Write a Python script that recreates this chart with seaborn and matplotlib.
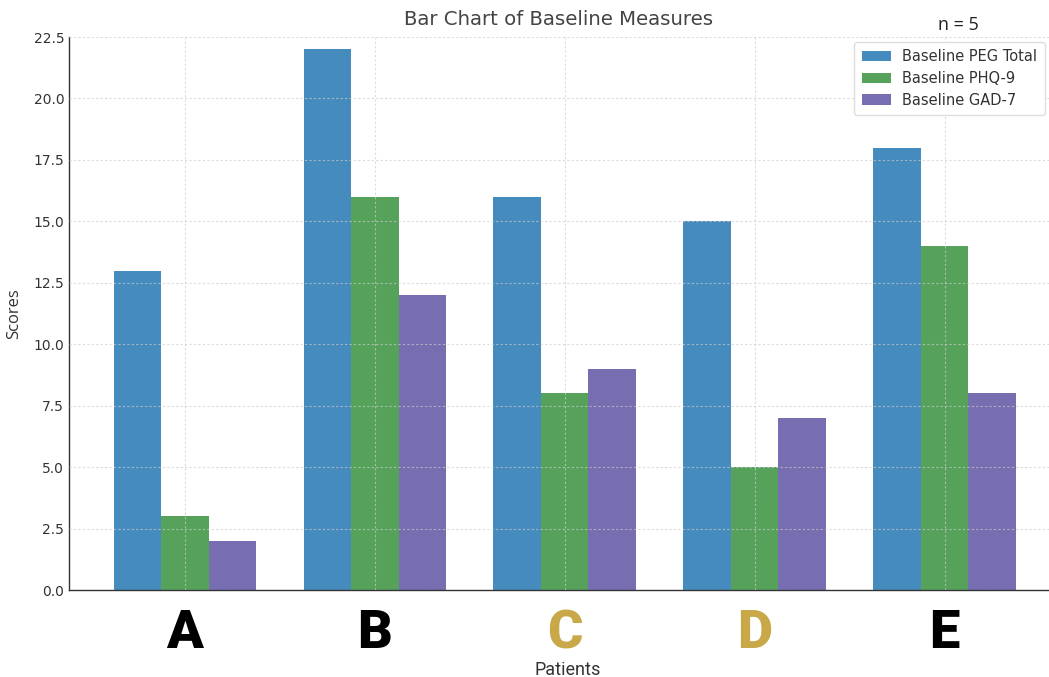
import matplotlib
matplotlib.use("Agg")
import matplotlib.pyplot as plt
import seaborn as sns
import pandas as pd

patients = ["A", "B", "C", "D", "E"]
peg_total = [13, 22, 16, 15, 18]
phq9 = [3, 16, 8, 5, 14]
gad7 = [2, 12, 9, 7, 8]
series_names = ["Baseline PEG Total", "Baseline PHQ-9", "Baseline GAD-7"]
label_colors = ["black", "black", "#C9A84A", "#C9A84A", "black"]

rows = []
for name, vals in zip(series_names, [peg_total, phq9, gad7]):
    for p, v in zip(patients, vals):
        rows.append({"Patients": p, "Scores": v, "Measure": name})
df = pd.DataFrame(rows)

sns.set_theme(style="white")
plt.rcParams['font.family'] = ['DejaVu Sans']

fig = plt.figure(figsize=(10.49, 6.77), dpi=100)
ax = fig.add_axes([0.0658, 0.1285, 0.9342, 0.8168])

palette = ["#468BBE", "#56A25B", "#776DB1"]
sns.barplot(data=df, x="Patients", y="Scores", hue="Measure", palette=palette,
            width=0.75, saturation=1, ax=ax, errorbar=None, linewidth=0,
            edgecolor="none")

ax.set_xlim(-0.61, 4.55)
ax.set_ylim(0, 22.5)
yt = [0, 2.5, 5, 7.5, 10, 12.5, 15, 17.5, 20, 22.5]
ax.set_yticks(yt)
ax.set_yticklabels([f"{v:.1f}" for v in yt], color="#333333", fontsize=10)
ax.grid(True, linestyle=(0, (2, 2)), color="#cccccc", linewidth=0.8, alpha=0.7)
ax.set_axisbelow(False)

for s in ["top", "right"]:
    ax.spines[s].set_visible(False)
for s in ["left", "bottom"]:
    ax.spines[s].set_color("#333333")
    ax.spines[s].set_linewidth(1.0)

ax.tick_params(axis="both", direction="in", length=3, color="#333333")
ax.tick_params(axis="x", pad=13)
ax.set_xticks(range(len(patients)))
ax.set_xticklabels(patients, fontsize=39, fontweight="black", family="Roboto")
for t, c in zip(ax.get_xticklabels(), label_colors):
    t.set_color(c)

ax.set_xlabel("Patients", fontsize=13, family="Roboto", color="#333333")
ax.xaxis.label.set_va("center")
ax.xaxis.set_label_coords((568 - 69) / 980, -(670 - 590) / 553)
ax.set_ylabel("Scores", fontsize=12, family="Open Sans", color="#333333", labelpad=8)
ax.set_title("Bar Chart of Baseline Measures", fontsize=14.2, color="#444444", pad=9)

leg = ax.legend(loc="upper right", bbox_to_anchor=(1.003, 1.004), fontsize=10.5,
                frameon=True, edgecolor="#dddddd", framealpha=1, title=None,
                handlelength=2.0, borderpad=0.5, labelspacing=0.45)
for t in leg.get_texts():
    t.set_color("#333333")

fig.text(958 / 1049, 1 - 25 / 677, "n = 5", fontsize=13, family="Open Sans",
         color="#222222", ha="center", va="center")

fig.savefig("out.png", dpi=100)
